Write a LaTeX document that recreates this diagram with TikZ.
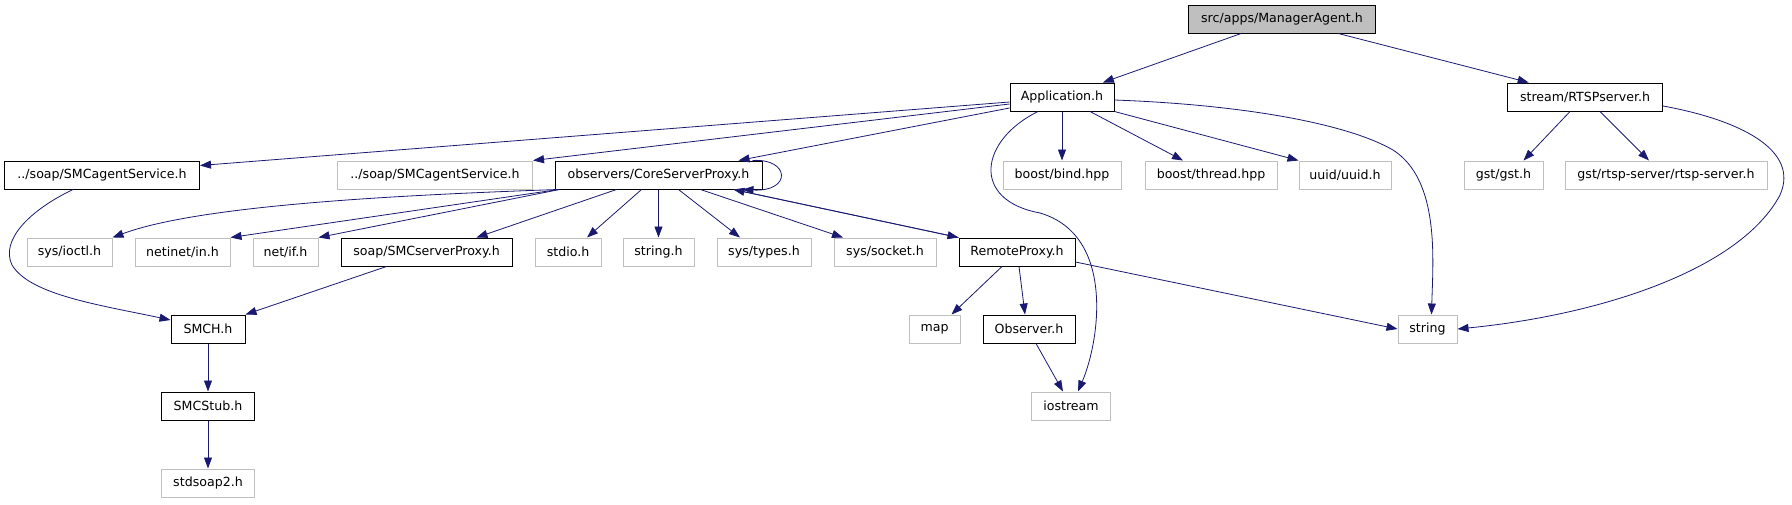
\documentclass[tikz,border=0pt]{standalone}
\usepackage{fontspec}
\setmainfont{DejaVu Sans}
\usetikzlibrary{arrows.meta}

\definecolor{edgeblue}{HTML}{191970}
\definecolor{sysgray}{HTML}{BFBFBF}

\begin{document}
\begin{tikzpicture}[
    x=1pt, y=-1pt,
    font=\fontsize{12.6}{15}\selectfont,
    file/.style={draw=black, line width=1pt, minimum height=28pt, inner sep=0pt, align=center},
    sysfile/.style={file, draw=sysgray},
    rootfile/.style={file, fill=sysgray},
    dep/.style={draw=edgeblue, line width=0.8pt, -{Triangle[length=11pt, width=8pt]}}
]
\useasboundingbox (0,0) rectangle (1792,504);

\node[rootfile, minimum width=187pt] (root) at (1282,19) {src/apps/ManagerAgent.h};

\node[file, minimum width=104pt] (app) at (1062,97) {Application.h};
\node[file, minimum width=155pt] (rtsp) at (1585,97) {stream/RTSPserver.h};

\node[file, minimum width=195pt] (agentsvc) at (102,175) {../soap/SMCagentService.h};
\node[sysfile, minimum width=195pt] (agentsvcx) at (435,175) {../soap/SMCagentService.h};
\node[file, minimum width=207pt] (csp) at (658.5,175) {observers/CoreServerProxy.h};
\node[sysfile, minimum width=118pt] (bind) at (1062,175) {boost/bind.hpp};
\node[sysfile, minimum width=132pt] (thread) at (1211,175) {boost/thread.hpp};
\node[sysfile, minimum width=92pt] (uuid) at (1345,175) {uuid/uuid.h};
\node[sysfile, minimum width=79pt] (gst) at (1503.5,175) {gst/gst.h};
\node[sysfile, minimum width=202pt] (rtspsrv) at (1666,175) {gst/rtsp-server/rtsp-server.h};

\node[sysfile, minimum width=85pt] (ioctl) at (69.5,252) {sys/ioctl.h};
\node[sysfile, minimum width=95pt] (netinet) at (182.5,252) {netinet/in.h};
\node[sysfile, minimum width=65pt] (netif) at (285.5,252) {net/if.h};
\node[file, minimum width=171pt] (smcsp) at (426.5,252) {soap/SMCserverProxy.h};
\node[sysfile, minimum width=66pt] (stdio) at (568,252) {stdio.h};
\node[sysfile, minimum width=71pt] (stringh) at (658.5,252) {string.h};
\node[sysfile, minimum width=94pt] (types) at (764,252) {sys/types.h};
\node[sysfile, minimum width=102pt] (socket) at (885,252) {sys/socket.h};
\node[file, minimum width=116pt] (rproxy) at (1017,252) {RemoteProxy.h};

\node[file, minimum width=74pt] (smch) at (208,329) {SMCH.h};
\node[sysfile, minimum width=51pt] (map) at (934.5,329) {map};
\node[file, minimum width=92pt] (observer) at (1029,329) {Observer.h};
\node[sysfile, minimum width=59pt] (string) at (1427.5,329) {string};

\node[file, minimum width=93pt] (smcstub) at (208,406) {SMCStub.h};
\node[sysfile, minimum width=79pt] (iostream) at (1071,406) {iostream};

\node[sysfile, minimum width=93pt] (stdsoap) at (208,483) {stdsoap2.h};

\draw[dep] (root) -- (app);
\draw[dep] (root) -- (rtsp);

\draw[dep] ([yshift=-5pt]app.west) -- ([yshift=-5pt]agentsvc.north east);
\draw[dep] ([yshift=-7pt]app.west) -- (agentsvcx.north east);
\draw[dep] ([yshift=-11pt]app.west) -- ([xshift=80pt]csp.north);
\draw[dep] (app) -- (bind);
\draw[dep] ([xshift=28pt]app.south) -- ([xshift=-28pt]thread.north);
\draw[dep] (app.south east) -- (uuid.north west);
\draw[dep] ([yshift=-3pt]app.east) .. controls (1250,105) and (1350,125) .. (1393,150)
    .. controls (1440,180) and (1433,260) .. ([xshift=4pt]string.north);
\draw[dep] ([xshift=-24pt]app.south) .. controls (980,140) and (970,200) .. (1040,213)
    .. controls (1115,235) and (1100,340) .. ([xshift=7pt]iostream.north);

\draw[dep] ([xshift=-15pt]rtsp.south) -- ([xshift=20pt]gst.north);
\draw[dep] ([xshift=15pt]rtsp.south) -- ([xshift=-17pt]rtspsrv.north);
\draw[dep] ([yshift=-9pt]rtsp.east) .. controls (1740,120) and (1800,150) .. (1780,195)
    .. controls (1740,270) and (1600,315) .. (string.east);

\draw[dep] ([xshift=-10pt]csp.north east) .. controls (790,158) and (792,192) .. ([xshift=-20pt]csp.south east);
\draw[dep] ([xshift=3pt]csp.south west) .. controls (400,195) and (200,205) .. (ioctl.north east);
\draw[dep] ([xshift=4pt]csp.south west) -- (netinet.north east);
\draw[dep] ([xshift=5pt]csp.south west) -- (netif.north east);
\draw[dep] ([xshift=-42pt]csp.south) -- ([xshift=50pt]smcsp.north);
\draw[dep] ([xshift=-17pt]csp.south) -- ([xshift=19pt]stdio.north);
\draw[dep] (csp) -- (stringh);
\draw[dep] ([xshift=20pt]csp.south) -- ([xshift=-24pt]types.north);
\draw[dep] ([xshift=42pt]csp.south) -- ([xshift=-42pt]socket.north);
\draw[dep] ([xshift=75pt]csp.south) -- (rproxy.north west);
\draw[dep] (rproxy.north west) -- ([xshift=75pt]csp.south);

\draw[dep] ([xshift=-15pt]rproxy.south) -- ([xshift=17pt]map.north);
\draw[dep] ([xshift=2pt]rproxy.south) -- ([xshift=-4pt]observer.north);
\draw[dep] ([yshift=-10pt]rproxy.east) -- (string.west);
\draw[dep] ([xshift=7pt]observer.south) -- ([xshift=-8pt]iostream.north);

\draw[dep] (agentsvc.south west) ++(69pt,0) .. controls (30,210) and (0,240) .. (12,265)
    .. controls (30,295) and (100,305) .. ([yshift=9pt]smch.west);
\draw[dep] ([xshift=-40pt]smcsp.south) -- (smch.north east);
\draw[dep] (smch) -- (smcstub);
\draw[dep] (smcstub) -- (stdsoap);
\end{tikzpicture}
\end{document}
